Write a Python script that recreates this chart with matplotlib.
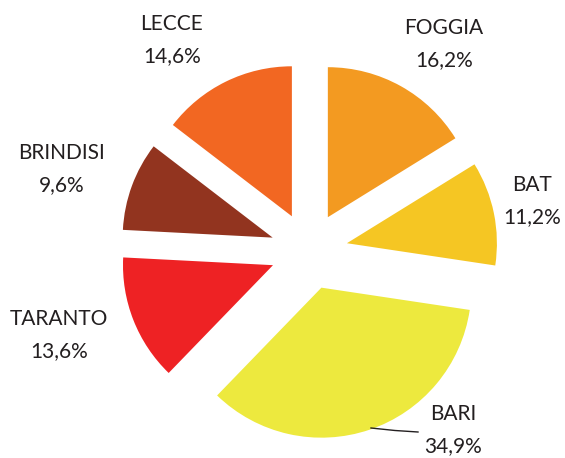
import matplotlib.pyplot as plt
from matplotlib.lines import Line2D

# data (clockwise from 12 o'clock)
provinces = ["FOGGIA", "BAT", "BARI", "TARANTO", "BRINDISI", "LECCE"]
shares = [16.2, 11.2, 34.9, 13.6, 9.6, 14.6]
colors = ["#F39A21", "#F5C623", "#EDE93E", "#EE2224", "#92341F", "#F26722"]

# label anchors in pixel space (x, y from top)
label_pos = [(444, 44), (532, 201), (453, 430), (59, 335), (62, 169), (172, 40)]

W, H = 565, 458
fig = plt.figure(figsize=(W / 100, H / 100), dpi=100)
ax = fig.add_axes([0, 0, 1, 1])

ax.pie(shares, colors=colors, startangle=90, counterclock=False,
       center=(309, H - 251), radius=150, explode=[38.7] * len(shares),
       wedgeprops=dict(linewidth=0), normalize=True, frame=True)

ax.set_xlim(0, W)
ax.set_ylim(0, H)
ax.set_aspect("equal")
ax.axis("off")

for name, val, (lx, ly) in zip(provinces, shares, label_pos):
    pct = f"{val:.1f}%".replace(".", ",")
    ax.text(lx, H - ly, f"{name}\n{pct}", ha="center", va="center",
            fontsize=15, family="Lato", color="#231F20", linespacing=1.8)

# leader line for BARI
ax.add_line(Line2D([371, 395, 418], [H - 428, H - 430.5, H - 432],
                   color="#231F20", linewidth=1.0))

fig.savefig("out.png", dpi=100)
